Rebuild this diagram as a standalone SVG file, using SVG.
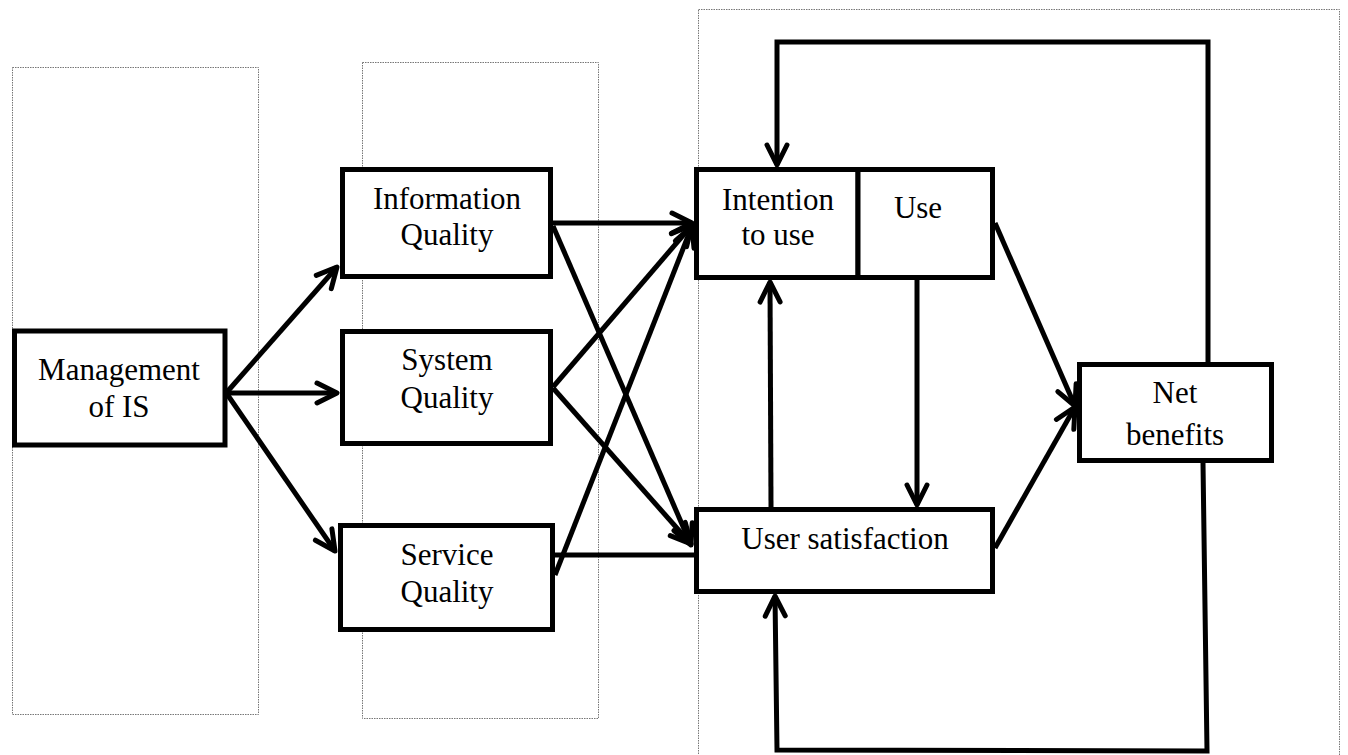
<svg xmlns="http://www.w3.org/2000/svg" width="1348" height="755" viewBox="0 0 1348 755">
<style>
.zone{fill:none;stroke:#777;stroke-width:1;stroke-dasharray:1.5 1}
.box{fill:#fff;stroke:#000;stroke-width:5}
.lbl{font-family:"Liberation Serif","Times New Roman",serif;font-size:31px;fill:#000;text-anchor:middle}
.c{fill:none;stroke:#000;stroke-width:5;stroke-linejoin:miter}
.a{marker-end:url(#ah)}
</style>
<defs>
<marker id="ah" markerUnits="userSpaceOnUse" markerWidth="40" markerHeight="40" viewBox="-30 -20 40 40" refX="0" refY="0" orient="auto" overflow="visible">
<path d="M-20,-10 L0,0 L-20,10" fill="none" stroke="#000" stroke-width="5" stroke-linecap="round" stroke-linejoin="round"/>
</marker>
</defs>
<g id="zones">
<rect class="zone" x="12.5" y="67.5" width="246" height="647"/>
<rect class="zone" x="362.5" y="62.5" width="236" height="656"/>
<rect class="zone" x="698.5" y="9.5" width="641" height="760"/>
</g>
<g id="connectors">
<line class="c a" x1="227" y1="392" x2="337" y2="267"/>
<line class="c a" x1="227" y1="393" x2="337" y2="393"/>
<line class="c a" x1="227" y1="394" x2="335" y2="551"/>
<line class="c a" x1="553" y1="223" x2="692" y2="223"/>
<line class="c a" x1="553" y1="226" x2="691" y2="545"/>
<line class="c a" x1="553" y1="387" x2="692" y2="225"/>
<line class="c a" x1="553" y1="388" x2="691" y2="544"/>
<line class="c a" x1="555" y1="575" x2="692" y2="226"/>
<line class="c" x1="553" y1="555" x2="694" y2="555"/>
<line class="c a" x1="771" y1="507" x2="770" y2="282"/>
<line class="c a" x1="917" y1="280" x2="917" y2="505"/>
<line class="c a" x1="995" y1="223" x2="1075" y2="406"/>
<line class="c a" x1="995" y1="548" x2="1075" y2="407"/>
<polyline class="c a" points="1208,362 1208,42 777,42 777,165"/>
<polyline class="c a" points="1203,463 1207,751 777,750 775,596"/>
</g>
<g id="management">
<rect class="box" x="14.5" y="331" width="210.5" height="114"/>
<text class="lbl" x="119" y="380">Management</text>
<text class="lbl" x="119" y="417">of IS</text>
</g>
<g id="information-quality">
<rect class="box" x="342.5" y="169.5" width="208" height="107"/>
<text class="lbl" x="447" y="209">Information</text>
<text class="lbl" x="447" y="245">Quality</text>
</g>
<g id="system-quality">
<rect class="box" x="342.5" y="331.5" width="208" height="112"/>
<text class="lbl" x="447" y="370">System</text>
<text class="lbl" x="447" y="408">Quality</text>
</g>
<g id="service-quality">
<rect class="box" x="340.5" y="525.5" width="212" height="104"/>
<text class="lbl" x="447" y="565">Service</text>
<text class="lbl" x="447" y="602">Quality</text>
</g>
<g id="intention-to-use">
<rect class="box" x="696.5" y="169.5" width="161.5" height="108"/>
<text class="lbl" x="778" y="210">Intention</text>
<text class="lbl" x="778" y="245">to use</text>
</g>
<g id="use">
<rect class="box" x="858" y="169.5" width="134.5" height="108"/>
<text class="lbl" x="918" y="218">Use</text>
</g>
<g id="user-satisfaction">
<rect class="box" x="696.5" y="509.5" width="296" height="82"/>
<text class="lbl" x="845" y="549">User satisfaction</text>
</g>
<g id="net-benefits">
<rect class="box" x="1079.5" y="364.5" width="192" height="96"/>
<text class="lbl" x="1175" y="403">Net</text>
<text class="lbl" x="1175" y="445">benefits</text>
</g>
</svg>
